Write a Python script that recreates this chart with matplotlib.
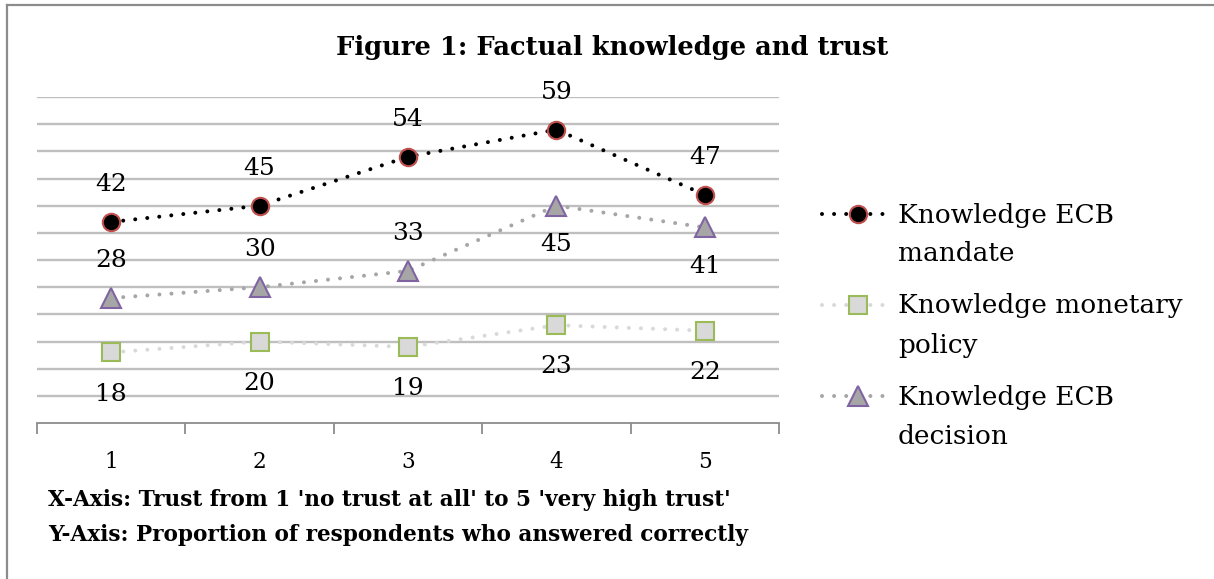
import numpy as np
import matplotlib
matplotlib.use("Agg")
import matplotlib.pyplot as plt
from matplotlib.lines import Line2D

plt.rcParams['font.family'] = ['DejaVu Serif']

trust_levels = ['1', '2', '3', '4', '5']
mandate = [42, 45, 54, 59, 47]
monetary = [18, 20, 19, 23, 22]
decision = [28, 30, 33, 45, 41]
series_names = [('Knowledge ECB', 'mandate'),
                ('Knowledge monetary', 'policy'),
                ('Knowledge ECB', 'decision')]

W, H = 1214, 579
fig = plt.figure(figsize=(W / 100, H / 100), dpi=100)
ax = fig.add_axes([37 / W, 1 - 423 / H, (779 - 37) / W, (423 - 97) / H])

x = np.arange(1, len(trust_levels) + 1)
dots = (0, (0.001, 3.0))

styles = [
    dict(color='black', marker='o', markersize=12.5, markerfacecolor='black',
         markeredgecolor='#C0504D', zorder=4),
    dict(color='#D9D9D9', marker='s', markersize=12.5, markerfacecolor='#D9D9D9',
         markeredgecolor='#9BBB59', zorder=3),
    dict(color='#A6A6A6', marker='^', markersize=14, markerfacecolor='#A6A6A6',
         markeredgecolor='#8064A2', zorder=3),
]

for vals, st in zip([mandate, monetary, decision], styles):
    ax.plot(x, vals, lw=2.9, linestyle=dots, dash_capstyle='round',
            markeredgewidth=1.5, **st)

# data labels
for xi, v in zip(x, mandate):
    ax.annotate(str(v), (xi, v), xytext=(0, 27), textcoords='offset points',
                ha='center', va='center', fontsize=18)
for xi, v in zip(x, monetary):
    ax.annotate(str(v), (xi, v), xytext=(0, -30), textcoords='offset points',
                ha='center', va='center', fontsize=18)
for i, (xi, v) in enumerate(zip(x, decision)):
    dy = 27 if i < 3 else -28
    ax.annotate(str(v), (xi, v), xytext=(0, dy), textcoords='offset points',
                ha='center', va='center', fontsize=18)

ax.set_xlim(0.5, 5.5)
ax.set_ylim(5, 65)
ax.set_yticks(np.arange(10, 66, 5))
ax.yaxis.grid(True, color='#BFBFBF', lw=1.7)
ax.set_axisbelow(True)
ax.tick_params(axis='y', left=False, labelleft=False)

ax.set_xticks(x)
ax.set_xticklabels(trust_levels, fontsize=15.5)
ax.set_xticks(np.arange(0.5, 5.6, 1), minor=True)
ax.tick_params(axis='x', which='major', length=0, pad=20)
ax.tick_params(axis='x', which='minor', length=8, width=1.3, color='#8C8C8C')

for side in ['top', 'right', 'left']:
    ax.spines[side].set_visible(False)
ax.spines['bottom'].set_color('#8C8C8C')
ax.spines['bottom'].set_linewidth(1.3)

fig.text(612 / W, 1 - 47 / H, 'Figure 1: Factual knowledge and trust',
         ha='center', va='center', fontsize=18.5, fontweight='bold')

fig.text(48 / W, 1 - 500 / H, "X-Axis: Trust from 1 'no trust at all' to 5 'very high trust'",
         ha='left', va='center', fontsize=15.6, fontweight='bold')
fig.text(48 / W, 1 - 535 / H, "Y-Axis: Proportion of respondents who answered correctly",
         ha='left', va='center', fontsize=15.6, fontweight='bold')

# legend, drawn by hand so the marker sits on the first text line
for k, ((line1, line2), st) in enumerate(zip(series_names, styles)):
    yc = 214 + 91 * k
    handle = Line2D([822 / W, 858 / W, 890 / W], [1 - yc / H] * 3, transform=fig.transFigure,
                    lw=2.9, linestyle=dots, dash_capstyle='round', markeredgewidth=1.5,
                    markevery=[1], **st)
    fig.add_artist(handle)
    fig.text(898 / W, 1 - (yc + 1) / H, line1, ha='left', va='center', fontsize=19)
    fig.text(898 / W, 1 - (yc + 40) / H, line2, ha='left', va='center', fontsize=19)

# outer border
fig.add_artist(Line2D([7 / W, 7 / W], [0, 1 - 5 / H], transform=fig.transFigure,
                      color='#8C8C8C', lw=1.6))
fig.add_artist(Line2D([7 / W, 1], [1 - 5 / H, 1 - 5 / H], transform=fig.transFigure,
                      color='#8C8C8C', lw=1.6))

fig.savefig('out.png', dpi=100)
